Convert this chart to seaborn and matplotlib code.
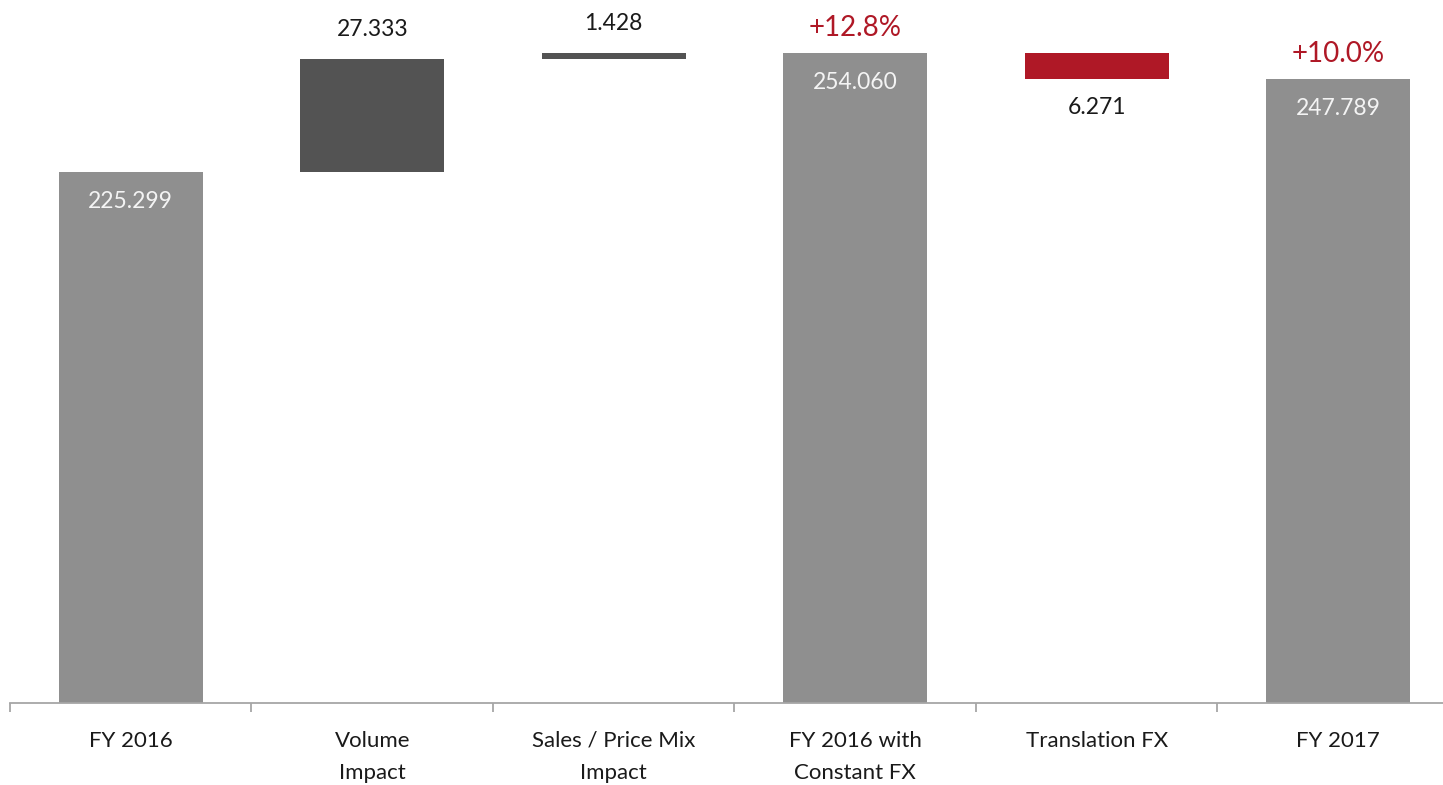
import pandas as pd
import numpy as np
import matplotlib
matplotlib.use('Agg')
import matplotlib.pyplot as plt
import seaborn as sns

# waterfall data
categories = ['FY 2016', 'Volume\nImpact', 'Sales / Price Mix\nImpact',
              'FY 2016 with\nConstant FX', 'Translation FX', 'FY 2017']
kinds = ['total', 'up', 'up', 'total', 'down', 'total']
deltas = [225.299, 27.333, 1.428, 254.060, -6.271, 247.789]
value_labels = ['225.299', '27.333', '1.428', '254.060', '6.271', '247.789']
pct_labels = ['', '', '', '+12.8%', '', '+10.0%']

# running totals -> bar top / base
tops, bases = [], []
run = 0.0
for k, d in zip(kinds, deltas):
    if k == 'total':
        run = d
        bases.append(0.0)
        tops.append(d)
    else:
        start = run
        run = run + d
        bases.append(min(start, run))
        tops.append(max(start, run))

df = pd.DataFrame({'cat': categories, 'top': tops, 'base': bases, 'kind': kinds})

colors = {'total': '#8F8F8F', 'up': '#535353', 'down': '#AF1826'}
pal = [colors[k] for k in kinds]

sns.set_style('white')
plt.rcParams['font.family'] = ['Lato', 'DejaVu Sans']

fig = plt.figure(figsize=(14.43, 7.85), dpi=100)
ax = fig.add_axes([10 / 1443, 82 / 785, 1449 / 1443, 683 / 785])

sns.barplot(data=df, x='cat', y='top', hue='cat', palette=pal, order=categories,
            hue_order=categories, legend=False, width=0.595, linewidth=0,
            saturation=1, ax=ax)
# white base hides the lower part of the floating bars
sns.barplot(data=df, x='cat', y='base', color='white', order=categories,
            width=0.6, linewidth=0, saturation=1, ax=ax)

ax.set_ylim(97, 262)
ax.set_xlim(-0.5, 5.5)

for i, k in enumerate(kinds):
    if k == 'total':
        ax.annotate(value_labels[i], xy=(i, tops[i]), xytext=(0, -21.5),
                    textcoords='offset points', ha='center', va='center',
                    color='#F4F4F4', fontsize=16.5)
        if pct_labels[i]:
            ax.annotate(pct_labels[i], xy=(i, tops[i]), xytext=(0, 18),
                        textcoords='offset points', ha='center', va='center',
                        color='#AF1826', fontsize=20, annotation_clip=False)
    elif k == 'up':
        ax.annotate(value_labels[i], xy=(i, tops[i]), xytext=(0, 21),
                    textcoords='offset points', ha='center', va='center',
                    color='#1A1A1A', fontsize=16.5, annotation_clip=False)
    else:
        ax.annotate(value_labels[i], xy=(i, bases[i]), xytext=(0, -21),
                    textcoords='offset points', ha='center', va='center',
                    color='#1A1A1A', fontsize=16.5)

for s in ['top', 'right', 'left']:
    ax.spines[s].set_visible(False)
ax.spines['bottom'].set_color('#A6A6A6')
ax.spines['bottom'].set_linewidth(1.3)

ax.set_yticks([])
ax.set_xticks(range(len(categories)))
ax.set_xticklabels(categories, fontsize=16, color='#1A1A1A', linespacing=1.75)
ax.set_xticks(np.arange(-0.5, len(categories), 1), minor=True)
ax.tick_params(axis='x', which='major', length=0, pad=20)
ax.tick_params(axis='x', which='minor', length=6.5, width=1.3, color='#A6A6A6',
               direction='out', bottom=True)
ax.set_xlabel('')
ax.set_ylabel('')

fig.savefig('out.png', dpi=100)
